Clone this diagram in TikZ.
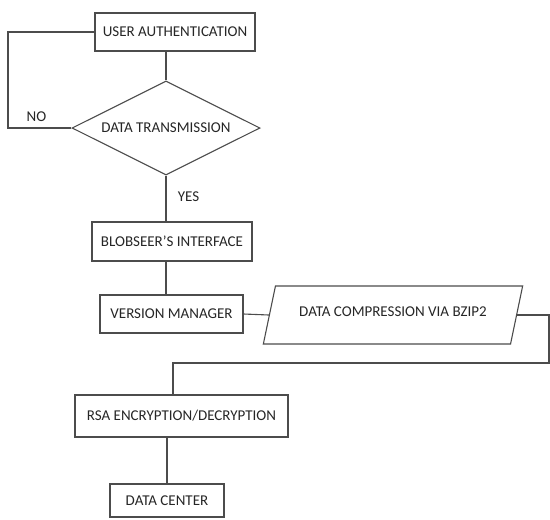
\documentclass[tikz,border=0pt]{standalone}
\usepackage{fontspec}
\setmainfont{Carlito}
\usetikzlibrary{arrows.meta,calc,shapes.geometric}

\begin{document}
\begin{tikzpicture}[
		x=1pt, y=-1pt,
		font=\fontsize{15}{17}\selectfont, text=black!85,
		box/.style={rectangle, draw=black!70, line width=1.1pt, inner sep=0pt, align=center},
		decision/.style={diamond, draw=black!70, line width=1.1pt, aspect=2, inner sep=0pt, minimum width=188pt, minimum height=94pt},
		inout/.style={trapezium, trapezium left angle=60, trapezium right angle=120, trapezium stretches=true, draw=black!70, line width=1.1pt, inner sep=0pt, minimum width=260pt, minimum height=58pt},
		link/.style={draw=black!70, line width=1.1pt}
		]
		\useasboundingbox (0,0) rectangle (550,520);
		
		\node (auth) at (175,32) [box, minimum width=160pt, minimum height=38pt] {USER AUTHENTICATION};
		\node (trans) at (166,128) [decision] {DATA TRANSMISSION};
		\node (blob) at (172,241.5) [box, minimum width=160pt, minimum height=39pt] {BLOBSEER'S INTERFACE};
		\node (vm) at (171.5,314) [box, minimum width=143pt, minimum height=38pt] {VERSION MANAGER};
		\node (comp) at (393,315) [inout] {\raisebox{7pt}{DATA COMPRESSION VIA BZIP2}};
		\node (rsa) at (181.5,416) [box, minimum width=213pt, minimum height=42pt] {RSA ENCRYPTION/DECRYPTION};
		\node (dc) at (167,500.5) [box, minimum width=114pt, minimum height=33pt] {DATA CENTER};
		
		% turning points of the side paths
		\coordinate (noturn) at (8,128);
		\coordinate (loopturn) at (549,363);
		
		\draw [link] (trans.north) -- (trans.north |- auth.south);
		\draw [link] (auth.west) -| (noturn) -- (trans.west) node[pos=0.45, above=3pt] {NO};
		\draw [link] (trans.south) -- (trans.south |- blob.north) node[pos=0.45, right=8pt] {YES};
		\draw [link] (blob.south -| trans.south) -- (vm.north -| trans.south);
		\draw [link] (vm.east) -- (comp.west);
		\draw [link] (comp.east) -- (comp.east -| loopturn) -- (loopturn) -| ([xshift=-8.5pt]rsa.north);
		\draw [link] (dc.north) -- (dc.north |- rsa.south);
	\end{tikzpicture}
\end{document}
